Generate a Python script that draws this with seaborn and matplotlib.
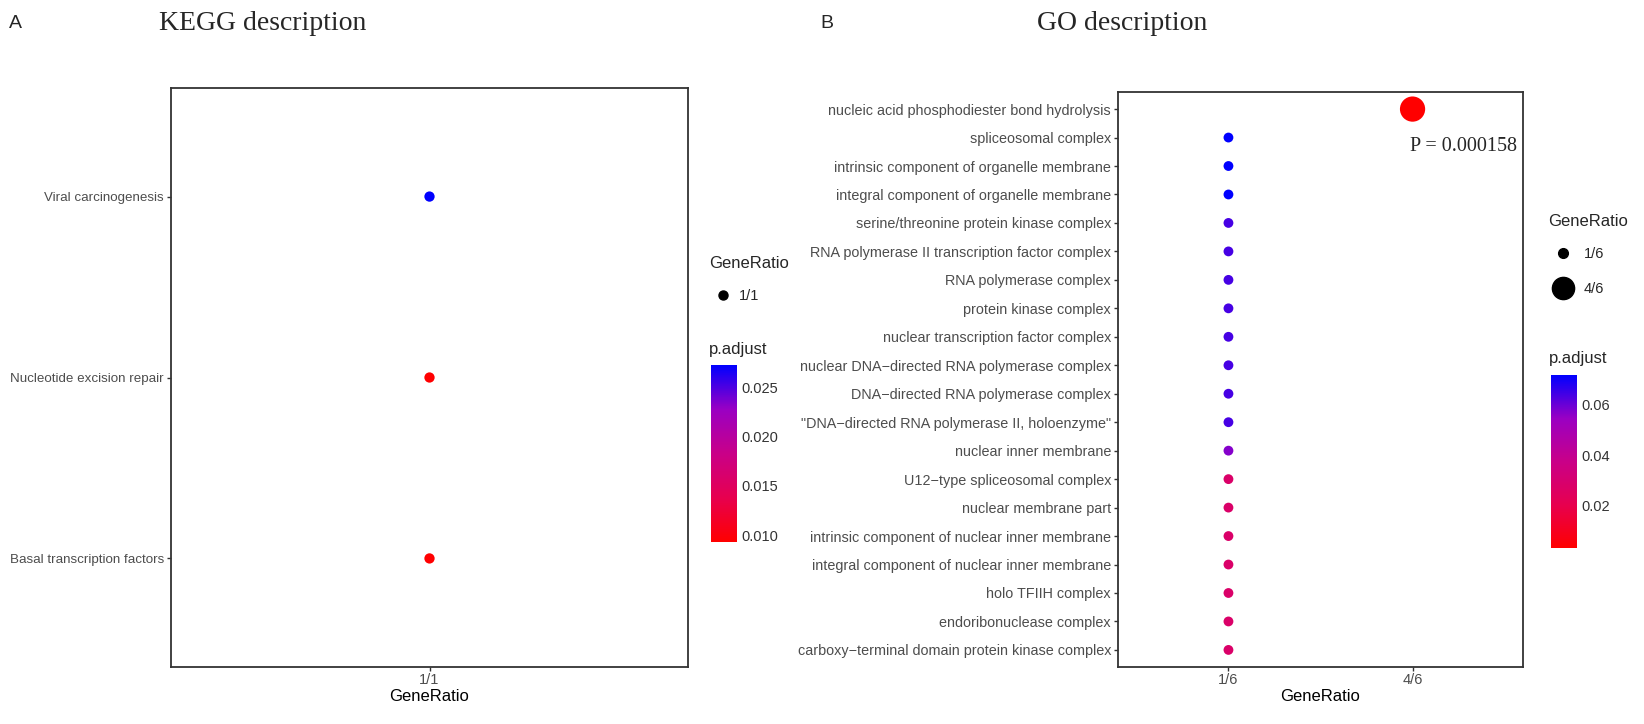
import pandas as pd
import numpy as np
import matplotlib
matplotlib.use('Agg')
import matplotlib.pyplot as plt
import matplotlib as mpl
import seaborn as sns
from matplotlib.colors import LinearSegmentedColormap, Normalize
from matplotlib.lines import Line2D

# --- Data ---
kegg_terms = ['Viral carcinogenesis', 'Nucleotide excision repair', 'Basal transcription factors']
kegg_ratio = ['1/1', '1/1', '1/1']
kegg_padj = [0.0273, 0.0094, 0.0094]
kegg_ratio_levels = ['1/1']

go_terms = [
    'nucleic acid phosphodiester bond hydrolysis',
    'spliceosomal complex',
    'intrinsic component of organelle membrane',
    'integral component of organelle membrane',
    'serine/threonine protein kinase complex',
    'RNA polymerase II transcription factor complex',
    'RNA polymerase complex',
    'protein kinase complex',
    'nuclear transcription factor complex',
    'nuclear DNA\u2212directed RNA polymerase complex',
    'DNA\u2212directed RNA polymerase complex',
    '"DNA\u2212directed RNA polymerase II, holoenzyme"',
    'nuclear inner membrane',
    'U12\u2212type spliceosomal complex',
    'nuclear membrane part',
    'intrinsic component of nuclear inner membrane',
    'integral component of nuclear inner membrane',
    'holo TFIIH complex',
    'endoribonuclease complex',
    'carboxy\u2212terminal domain protein kinase complex',
]
go_ratio = ['4/6', '1/6', '1/6', '1/6', '1/6', '1/6', '1/6', '1/6', '1/6', '1/6',
            '1/6', '1/6', '1/6', '1/6', '1/6', '1/6', '1/6', '1/6', '1/6', '1/6']
go_padj = [0.0031, 0.0718, 0.0718, 0.0718, 0.0640, 0.0640, 0.0640, 0.0640, 0.0640, 0.0640,
           0.0640, 0.0640, 0.0570, 0.0280, 0.0280, 0.0280, 0.0280, 0.0280, 0.0280, 0.0280]
go_ratio_levels = ['1/6', '4/6']

# ggplot-like red -> blue gradient (interpolated in Lab)
cmap = LinearSegmentedColormap.from_list(
    'padj', ['#FF0000', '#E7004F', '#C90088', '#9A00C3', '#0000FF'])

sns.set_style('white')
plt.rcParams['font.family'] = ['Liberation Sans', 'DejaVu Sans']

W, H = 1644, 724
fig = plt.figure(figsize=(W / 100, H / 100), dpi=100)


def fx(px):
    return px / W


def fy(py):
    return 1 - py / H


def dotpanel(rect, terms, ratio, padj, levels, sizes, vmin, vmax, label_size):
    df = pd.DataFrame({
        'Description': pd.Categorical(terms, categories=terms),
        'GeneRatio': pd.Categorical(ratio, categories=levels),
        'p.adjust': padj,
    })
    ax = fig.add_axes(rect)
    sns.scatterplot(data=df, x='GeneRatio', y='Description', hue='p.adjust',
                    palette=cmap, hue_norm=(vmin, vmax), size='GeneRatio',
                    sizes=sizes, legend=False, linewidth=0, ax=ax)
    ax.set_xlim(-0.6, len(levels) - 0.4)
    ax.set_ylim(len(terms) - 0.4, -0.6)
    for s in ax.spines.values():
        s.set_color('#333333')
        s.set_linewidth(1.3)
    ax.tick_params(axis='both', which='both', direction='out', length=3,
                   width=1, color='#333333', left=True, bottom=True,
                   colors='#4D4D4D', pad=2)
    ax.tick_params(axis='y', labelsize=label_size)
    ax.tick_params(axis='x', labelsize=10.5, pad=1.5)
    ax.set_ylabel('')
    ax.set_xlabel('GeneRatio', fontsize=12, color='black', labelpad=1.5)
    return ax


def colorbar(rect, vmin, vmax, ticks, fmt, title_xy):
    cax = fig.add_axes(rect)
    cb = mpl.colorbar.ColorbarBase(cax, cmap=cmap, norm=Normalize(vmin, vmax),
                                   ticks=ticks)
    cb.outline.set_visible(False)
    cax.set_yticklabels([fmt.format(t) for t in ticks])
    cax.yaxis.set_ticks_position('both')
    cax.tick_params(axis='y', which='both', direction='in', length=5,
                    width=1, labelsize=10.5, labelleft=False,
                    labelright=True, labelcolor='#333333', color='white')
    fig.text(fx(title_xy[0]), fy(title_xy[1]), 'p.adjust', fontsize=12,
             ha='left', va='center')


def size_legend(title_xy, x0, ycenter, labels, msizes, spacing, textpad):
    fig.text(fx(title_xy[0]), fy(title_xy[1]), 'GeneRatio', fontsize=12,
             ha='left', va='center')
    handles = [Line2D([], [], marker='o', color='black', linestyle='', markersize=m)
               for m in msizes]
    fig.legend(handles, labels, loc='center left',
               bbox_to_anchor=(fx(x0), fy(ycenter)), frameon=False,
               fontsize=10.5, handlelength=1.0, handletextpad=textpad,
               borderpad=0, borderaxespad=0, labelspacing=spacing)


# Panel A: KEGG
axA = dotpanel([fx(171), fy(667), fx(688 - 171), (667 - 88) / H],
               kegg_terms, kegg_ratio, kegg_padj, kegg_ratio_levels,
               {'1/1': 55}, 0.0093, 0.0273, 9.6)
colorbar([fx(711), fy(542), fx(26), (542 - 365) / H], 0.0093, 0.0273,
         [0.010, 0.015, 0.020, 0.025], '{:.3f}', (709, 350))
size_legend((709, 264), 716, 296, ['1/1'], [6.5], 0.5, 0.6)

# Panel B: GO
axB = dotpanel([fx(1118), fy(667), fx(1523 - 1118), (667 - 92) / H],
               go_terms, go_ratio, go_padj, go_ratio_levels,
               {'1/6': 50, '4/6': 330}, 0.0031, 0.0718, 10.4)
colorbar([fx(1551), fy(548), fx(26), (548 - 375) / H], 0.0031, 0.0718,
         [0.02, 0.04, 0.06], '{:.2f}', (1549, 358))
size_legend((1548, 221), 1556, 271.5, ['1/6', '4/6'], [7, 16], 1.45, 0.9)

axB.text(0.985, 0.905, 'P = 0.000158', transform=axB.transAxes, ha='right',
         va='center', fontsize=14.5, family=['Liberation Serif', 'DejaVu Serif'])

# Titles and panel letters
fig.text(fx(9), fy(23), 'A', fontsize=14, ha='left', va='center')
fig.text(fx(820), fy(23), 'B', fontsize=14, ha='left', va='center')
fig.text(fx(263), fy(24), 'KEGG description', fontsize=20, ha='center', va='center',
         family=['Liberation Serif', 'DejaVu Serif'])
fig.text(fx(1122), fy(24), 'GO description', fontsize=20, ha='center', va='center',
         family=['Liberation Serif', 'DejaVu Serif'])

fig.savefig('out.png', dpi=100, facecolor='white')
